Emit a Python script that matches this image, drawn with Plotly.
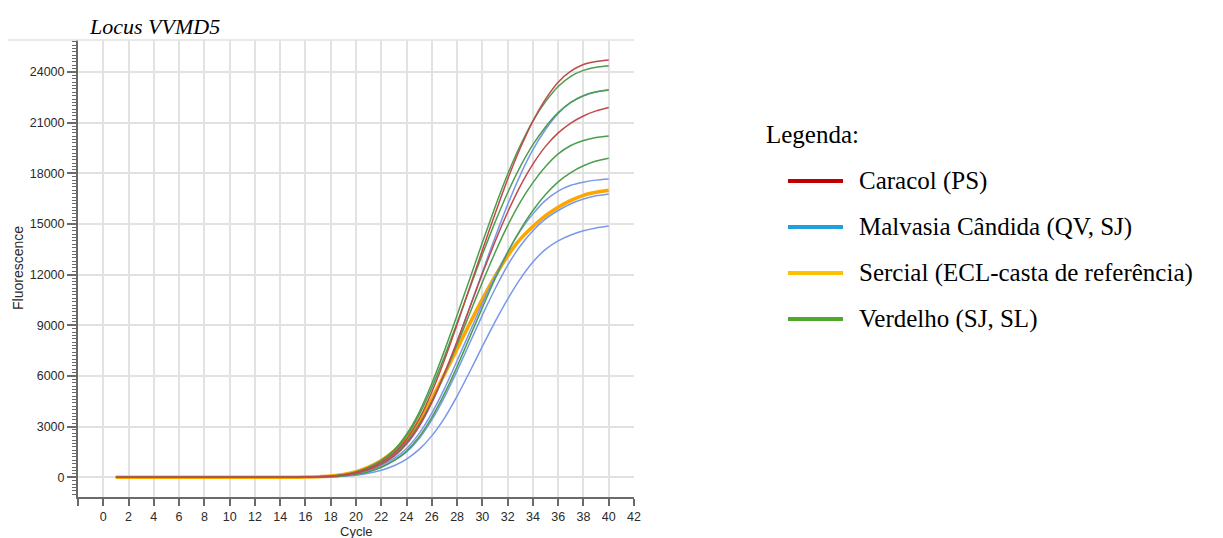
import plotly.graph_objects as go

# ---------------- data ----------------
cycles = list(range(1, 41))

caracol_1 = [5, 3, 0, -2, -4, -3, 0, 2, 3, 1, 0, -1, 0, 2, 5, 10,
             25, 60, 130, 280, 520, 880, 1420, 2250, 3450, 5050, 6950, 9050, 11250, 13450,
             15600, 17650, 19500, 21100, 22400, 23400, 24050, 24450, 24630, 24720]
caracol_2 = [3, 2, 0, -1, -3, -2, 0, 1, 2, 1, 0, -1, 0, 1, 4, 8,
             20, 50, 115, 240, 450, 780, 1270, 2000, 3050, 4450, 6150, 8050, 10050, 12050,
             13950, 15700, 17250, 18550, 19600, 20400, 20980, 21400, 21700, 21900]

malvasia_1 = [2, 1, 0, -2, -3, -2, 0, 1, 2, 0, 0, -1, 0, 1, 3, 7,
              20, 50, 110, 230, 430, 750, 1220, 1950, 3000, 4400, 6100, 8000, 10050, 12150,
              14200, 16150, 17900, 19400, 20600, 21550, 22200, 22600, 22820, 22920]
malvasia_2 = [2, 1, 0, -1, -2, -2, 0, 1, 1, 0, 0, -1, 0, 1, 3, 6,
              18, 45, 100, 210, 400, 690, 1100, 1700, 2600, 3800, 5250, 6900, 8600, 10300,
              11900, 13350, 14600, 15600, 16400, 16950, 17300, 17480, 17600, 17660]
malvasia_3 = [1, 1, 0, -1, -2, -1, 0, 1, 1, 0, 0, -1, 0, 1, 2, 5,
              15, 35, 80, 170, 330, 590, 980, 1500, 2300, 3400, 4750, 6300, 7950, 9600,
              11150, 12550, 13700, 14600, 15300, 15800, 16200, 16480, 16670, 16780]
malvasia_4 = [1, 0, 0, -1, -2, -1, 0, 0, 1, 0, 0, -1, 0, 1, 2, 4,
              10, 25, 55, 120, 230, 410, 680, 1080, 1650, 2450, 3500, 4800, 6250, 7750,
              9200, 10550, 11750, 12750, 13500, 14000, 14350, 14600, 14770, 14880]

sercial = [4, 2, 0, -2, -3, -2, 0, 2, 2, 1, 0, -1, 0, 2, 5, 10,
           35, 80, 165, 330, 600, 990, 1550, 2300, 3350, 4650, 6100, 7600, 9100, 10550,
           11900, 13100, 14100, 14850, 15500, 16000, 16400, 16700, 16880, 17000]

verdelho_1 = [5, 3, 0, -2, -4, -3, 0, 2, 3, 1, 0, -1, 0, 2, 5, 10,
              30, 70, 150, 320, 600, 1000, 1600, 2550, 3850, 5550, 7500, 9600, 11750, 13900,
              16000, 17950, 19650, 21100, 22250, 23150, 23750, 24100, 24280, 24370]
verdelho_2 = [4, 2, 0, -2, -3, -2, 0, 2, 2, 1, 0, -1, 0, 2, 5, 10,
              30, 70, 150, 310, 580, 970, 1550, 2450, 3700, 5300, 7150, 9150, 11200, 13200,
              15100, 16850, 18400, 19700, 20750, 21600, 22200, 22600, 22830, 22950]
verdelho_3 = [3, 2, 0, -1, -3, -2, 0, 1, 2, 1, 0, -1, 0, 1, 4, 8,
              25, 60, 130, 270, 500, 850, 1370, 2100, 3150, 4500, 6100, 7850, 9700, 11550,
              13300, 14900, 16300, 17450, 18400, 19150, 19650, 19950, 20130, 20220]
verdelho_4 = [1, 1, 0, -1, -2, -1, 0, 1, 1, 0, 0, -1, 0, 1, 2, 5,
              15, 35, 80, 170, 330, 590, 980, 1550, 2400, 3550, 4950, 6550, 8300, 10050,
              11750, 13300, 14650, 15800, 16750, 17500, 18050, 18450, 18730, 18900]

legend_labels = ["Caracol (PS)", "Malvasia Cândida (QV, SJ)",
                 "Sercial (ECL-casta de referência)", "Verdelho (SJ, SL)"]
legend_colors = ["#C00000", "#1FA0DA", "#FFC000", "#4EA72E"]

curve_red = "#C04A4A"
curve_blue = "#7898EA"
curve_green = "#4C9E4C"
curve_orange = "#FFA500"

x_tickvals = list(range(-2, 43, 2))
x_ticktext = [""] + [str(v) for v in range(0, 43, 2)]
y_tickvals = list(range(0, 24001, 3000))
y_ticktext = [str(v) for v in y_tickvals]

# ---------------- figure ----------------
fig = go.Figure()

def add_curve(values, color, width):
    fig.add_trace(go.Scatter(x=cycles, y=values, mode="lines",
                             line=dict(color=color, width=width, shape="spline", smoothing=0.5),
                             showlegend=False, hoverinfo="x+y"))

add_curve(sercial, curve_orange, 3.5)
for s in [malvasia_1, malvasia_2, malvasia_3, malvasia_4]:
    add_curve(s, curve_blue, 1.5)
for s in [verdelho_1, verdelho_2, verdelho_3, verdelho_4]:
    add_curve(s, curve_green, 1.5)
for s in [caracol_1, caracol_2]:
    add_curve(s, curve_red, 1.5)

# The page body adds an 8px offset; figure coordinates = page coordinates - 8.
OFF = 8
W, H = 1223 - OFF, 538 - OFF
L, R, T, B = 78 - OFF, 634 - OFF, 40 - OFF, 497 - OFF  # plot area in figure px

def px(xp):  # page px -> paper x
    return (xp - OFF - L) / (R - L)
def py(yp):  # page px -> paper y
    return (B - (yp - OFF)) / (B - T)

tick_font = dict(family="Liberation Sans, Arial", size=12.5, color="#2a2a2a")

fig.update_layout(
    width=W, height=H,
    margin=dict(l=L, r=W - R, t=T, b=H - B, autoexpand=False),
    paper_bgcolor="white", plot_bgcolor="white",
    showlegend=False,
    xaxis=dict(range=[-2, 42], tickvals=x_tickvals, ticktext=x_ticktext,
               ticks="outside", ticklen=7, tickwidth=1.5, tickcolor="#6a6a6a",
               showline=True, linecolor="#6a6a6a", linewidth=2,
               showgrid=True, gridcolor="#e2e2e2", gridwidth=1.5,
               zeroline=False, tickfont=tick_font, automargin=False),
    yaxis=dict(range=[-1170, 25900], tickvals=y_tickvals, ticktext=y_ticktext,
               ticks="outside", ticklen=9, tickwidth=1.5, tickcolor="#6a6a6a",
               minor=dict(dtick=200, tick0=0, ticks="outside", ticklen=4,
                          tickcolor="#6a6a6a", tickwidth=1, showgrid=False),
               showline=True, linecolor="#6a6a6a", linewidth=2,
               showgrid=True, gridcolor="#e2e2e2", gridwidth=1.5,
               zeroline=False, tickfont=tick_font, automargin=False),
)

# top border line of the plot frame
fig.add_shape(type="line", xref="paper", yref="paper", x0=px(8), x1=1, y0=1, y1=1,
              line=dict(color="#e2e2e2", width=1.5))

annotations = [
    dict(text="<i>Locus VVMD5</i>", x=px(87), y=py(27), xanchor="left", yanchor="middle",
         font=dict(family="Liberation Serif", size=22, color="black")),
    dict(text="Fluorescence", x=px(18), y=py(268), xanchor="center", yanchor="middle",
         textangle=-90, font=dict(family="Liberation Sans, Arial", size=14, color="#2a2a2a")),
    dict(text="Cycle", x=px(356), y=py(522), xanchor="center", yanchor="top",
         font=dict(family="Liberation Sans, Arial", size=13, color="#2a2a2a")),
    dict(text="Legenda:", x=px(764), y=py(134), xanchor="left", yanchor="middle",
         font=dict(family="Liberation Serif", size=25, color="black")),
]
row_y = [181, 227, 273, 319]
for label, color, yy in zip(legend_labels, legend_colors, row_y):
    fig.add_shape(type="line", xref="paper", yref="paper",
                  x0=px(788), x1=px(843), y0=py(yy), y1=py(yy),
                  line=dict(color=color, width=4))
    annotations.append(dict(text=label, x=px(857), y=py(yy), xanchor="left", yanchor="middle",
                            font=dict(family="Liberation Serif", size=25, color="black")))
for a in annotations:
    a.update(xref="paper", yref="paper", showarrow=False)
fig.update_layout(annotations=annotations)

fig.write_html("out.html")
